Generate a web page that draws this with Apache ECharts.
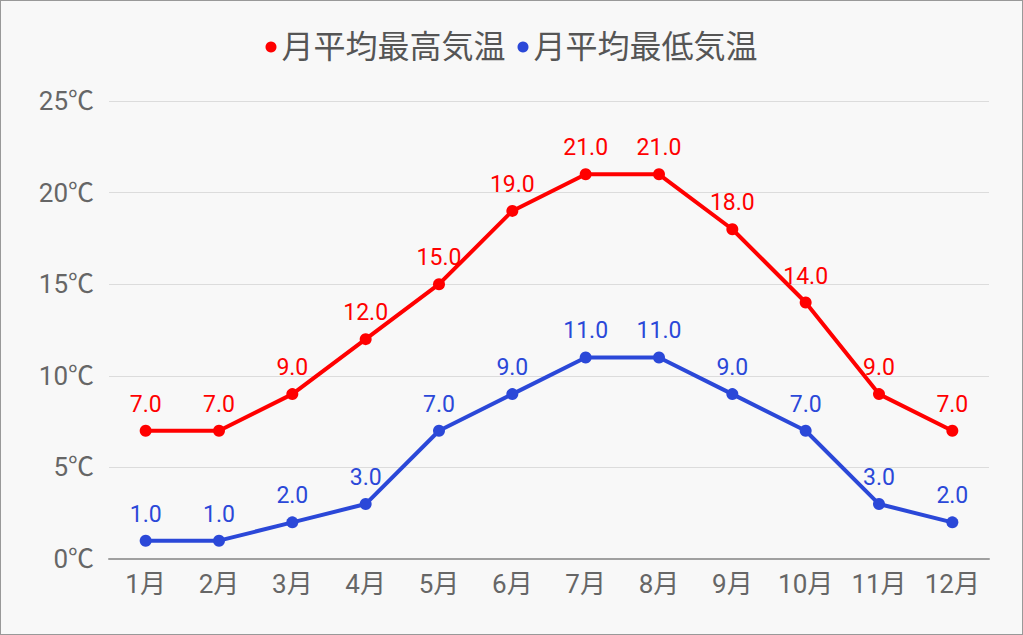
<!DOCTYPE html>
<html>
<head>
<meta charset="utf-8">
<script src="https://cdn.jsdelivr.net/npm/echarts@6/dist/echarts.min.js"></script>
<style>
  html, body { margin: 0; padding: 0; background: #fff; }
  #chart { width: 1021px; height: 633px; border: 1px solid #999; background: #f8f8f8; }
</style>
</head>
<body>
<div id="chart"></div>
<script>
var months = ['1月', '2月', '3月', '4月', '5月', '6月', '7月', '8月', '9月', '10月', '11月', '12月'];
var highTemps = [7, 7, 9, 12, 15, 19, 21, 21, 18, 14, 9, 7];
var lowTemps = [1, 1, 2, 3, 7, 9, 11, 11, 9, 7, 3, 2];
var seriesNames = ['月平均最高気温', '月平均最低気温'];

(function() {
  var font = 'Roboto, "Noto Sans CJK JP", sans-serif';
  var red = '#ff0000';
  var blue = '#2b48d8';

  var chart = echarts.init(document.getElementById('chart'), null, { renderer: 'svg' });
  chart.setOption({
    animation: false,
    textStyle: { fontFamily: font },
    legend: {
      top: 25,
      left: 'center',
      icon: 'circle',
      itemWidth: 11,
      itemHeight: 11,
      itemGap: 12,
      textStyle: { fontSize: 32, color: '#555', fontFamily: font }
    },
    grid: { left: 108, right: 33, top: 100, bottom: 75, containLabel: false },
    xAxis: {
      type: 'category',
      data: months,
      axisLine: { lineStyle: { color: '#a0a0a0', width: 2 } },
      axisTick: { show: false },
      axisLabel: { fontSize: 26, color: '#666', margin: 12, fontFamily: font }
    },
    yAxis: {
      type: 'value',
      min: 0,
      max: 25,
      interval: 5,
      axisLine: { show: false },
      axisTick: { show: false },
      splitLine: { lineStyle: { color: '#dcdcdc' } },
      axisLabel: { fontSize: 26, color: '#666', margin: 15, formatter: '{value}℃', fontFamily: font }
    },
    series: [
      {
        name: seriesNames[0],
        type: 'line',
        data: highTemps,
        color: red,
        symbol: 'circle',
        symbolSize: 12,
        lineStyle: { width: 4 },
        label: { show: true, position: 'top', distance: 9, fontSize: 23, color: red,
          formatter: function(p) { return p.value.toFixed(1); } }
      },
      {
        name: seriesNames[1],
        type: 'line',
        data: lowTemps,
        color: blue,
        symbol: 'circle',
        symbolSize: 12,
        lineStyle: { width: 4 },
        label: { show: true, position: 'top', distance: 9, fontSize: 23, color: blue,
          formatter: function(p) { return p.value.toFixed(1); } }
      }
    ]
  });
  window.addEventListener('resize', function() { chart.resize(); });
})();
</script>
</body>
</html>
